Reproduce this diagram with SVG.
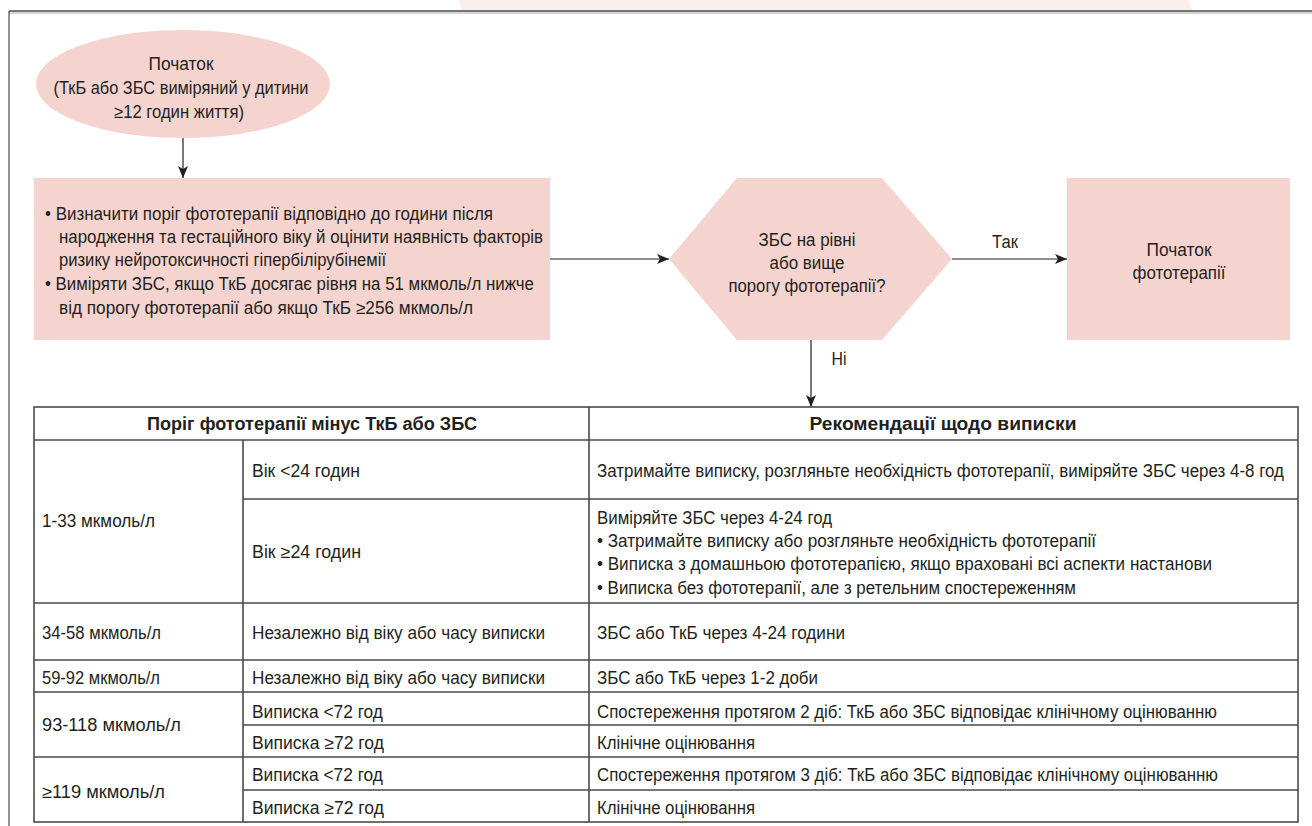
<svg xmlns="http://www.w3.org/2000/svg" width="1312" height="826" viewBox="0 0 1312 826">
<style>
.t{font-family:"Liberation Sans",Arial,sans-serif;font-size:17.5px;fill:#231f20}
.b{font-weight:bold}
.m{text-anchor:middle}
.node{fill:#f5d4cf;stroke:none}
.conn{stroke:#231f20;stroke-width:1.2;fill:none}
.grid{stroke:#4a4a4a;stroke-width:1.6;fill:none}
</style>
<defs>
<marker id="ah" viewBox="0 0 12 10" refX="12" refY="5" markerWidth="12" markerHeight="10" markerUnits="userSpaceOnUse" orient="auto">
<path d="M0,0 L12,5 L0,10 L3,5 z" fill="#231f20"/>
</marker>
</defs>
<rect width="1312" height="826" fill="#fff"/>
<polygon points="459,0 1188,0 1192,10 461,10" fill="#fbede7"/>
<g id="frame">
<line x1="9" y1="11" x2="1312" y2="11" stroke="#4a4a4a" stroke-width="1.6"/>
<line x1="9" y1="13" x2="1312" y2="13" stroke="#aaa" stroke-width="1"/>
<line x1="9" y1="11" x2="9" y2="826" stroke="#4a4a4a" stroke-width="1.2"/>
</g>
<g id="start">
<ellipse class="node" cx="183" cy="84" rx="147" ry="54"/>
<text class="t m" x="181" y="70" textLength="65" lengthAdjust="spacingAndGlyphs">Початок</text>
<text class="t m" x="181" y="94" textLength="255" lengthAdjust="spacingAndGlyphs">(ТкБ або ЗБС виміряний у дитини</text>
<text class="t m" x="179" y="118" textLength="130" lengthAdjust="spacingAndGlyphs">≥12 годин життя)</text>
</g>
<g id="assess">
<rect class="node" x="34" y="178" width="516" height="162"/>
<text class="t" x="45" y="220" textLength="448" lengthAdjust="spacingAndGlyphs">• Визначити поріг фототерапії відповідно до години після</text>
<text class="t" x="59" y="243" textLength="484" lengthAdjust="spacingAndGlyphs">народження та гестаційного віку й оцінити наявність факторів</text>
<text class="t" x="59" y="266" textLength="327" lengthAdjust="spacingAndGlyphs">ризику нейротоксичності гіпербілірубінемії</text>
<text class="t" x="45" y="290" textLength="489" lengthAdjust="spacingAndGlyphs">• Виміряти ЗБС, якщо ТкБ досягає рівня на 51 мкмоль/л нижче</text>
<text class="t" x="59" y="314" textLength="414" lengthAdjust="spacingAndGlyphs">від порогу фототерапії або якщо ТкБ ≥256 мкмоль/л</text>
</g>
<g id="decision">
<polygon class="node" points="669,259 737,178 882,178 952,259 882,340 737,340"/>
<text class="t m" x="807" y="246" textLength="97" lengthAdjust="spacingAndGlyphs">ЗБС на рівні</text>
<text class="t m" x="807" y="269" textLength="75" lengthAdjust="spacingAndGlyphs">або вище</text>
<text class="t m" x="807" y="292" textLength="157" lengthAdjust="spacingAndGlyphs">порогу фототерапії?</text>
</g>
<g id="phototherapy">
<rect class="node" x="1067" y="178" width="223" height="162"/>
<text class="t m" x="1179" y="256" textLength="65" lengthAdjust="spacingAndGlyphs">Початок</text>
<text class="t m" x="1179" y="279" textLength="93" lengthAdjust="spacingAndGlyphs">фототерапії</text>
</g>
<g id="connectors">
<line class="conn" x1="183" y1="138" x2="183" y2="178" marker-end="url(#ah)"/>
<line class="conn" x1="550" y1="259" x2="669" y2="259" marker-end="url(#ah)"/>
<line class="conn" x1="952" y1="259" x2="1067" y2="259" marker-end="url(#ah)"/>
<text class="t m" x="1005" y="248" textLength="26" lengthAdjust="spacingAndGlyphs">Так</text>
<line class="conn" x1="811" y1="340" x2="811" y2="407" marker-end="url(#ah)"/>
<text class="t m" x="839" y="365" textLength="15" lengthAdjust="spacingAndGlyphs">Ні</text>
</g>
<g id="table">
<rect class="grid" x="34" y="407" width="1264" height="415"/>
<line class="grid" x1="34" y1="440" x2="1298" y2="440"/>
<line class="grid" x1="589" y1="407" x2="589" y2="822"/>
<line class="grid" x1="243" y1="440" x2="243" y2="822"/>
<line class="grid" x1="243" y1="499" x2="1298" y2="499"/>
<line class="grid" x1="34" y1="603" x2="1298" y2="603"/>
<line class="grid" x1="34" y1="660" x2="1298" y2="660"/>
<line class="grid" x1="34" y1="692" x2="1298" y2="692"/>
<line class="grid" x1="243" y1="725" x2="1298" y2="725"/>
<line class="grid" x1="34" y1="757" x2="1298" y2="757"/>
<line class="grid" x1="243" y1="790" x2="1298" y2="790"/>
<text class="t b m" x="312" y="430" textLength="330" lengthAdjust="spacingAndGlyphs">Поріг фототерапії мінус ТкБ або ЗБС</text>
<text class="t b m" x="943" y="430" textLength="267" lengthAdjust="spacingAndGlyphs">Рекомендації щодо виписки</text>
<text class="t" x="42" y="527" textLength="113" lengthAdjust="spacingAndGlyphs">1-33 мкмоль/л</text>
<text class="t" x="252" y="477" textLength="108" lengthAdjust="spacingAndGlyphs">Вік &lt;24 годин</text>
<text class="t" x="252" y="558" textLength="109" lengthAdjust="spacingAndGlyphs">Вік ≥24 годин</text>
<text class="t" x="597" y="477" textLength="687" lengthAdjust="spacingAndGlyphs">Затримайте виписку, розгляньте необхідність фототерапії, виміряйте ЗБС через 4-8 год</text>
<text class="t" x="597" y="524" textLength="235" lengthAdjust="spacingAndGlyphs">Виміряйте ЗБС через 4-24 год</text>
<text class="t" x="597" y="547" textLength="499" lengthAdjust="spacingAndGlyphs">• Затримайте виписку або розгляньте необхідність фототерапії</text>
<text class="t" x="597" y="570" textLength="615" lengthAdjust="spacingAndGlyphs">• Виписка з домашньою фототерапією, якщо враховані всі аспекти настанови</text>
<text class="t" x="597" y="594" textLength="479" lengthAdjust="spacingAndGlyphs">• Виписка без фототерапії, але з ретельним спостереженням</text>
<text class="t" x="42" y="639" textLength="119" lengthAdjust="spacingAndGlyphs">34-58 мкмоль/л</text>
<text class="t" x="252" y="639" textLength="293" lengthAdjust="spacingAndGlyphs">Незалежно від віку або часу виписки</text>
<text class="t" x="597" y="639" textLength="248" lengthAdjust="spacingAndGlyphs">ЗБС або ТкБ через 4-24 години</text>
<text class="t" x="42" y="684" textLength="118" lengthAdjust="spacingAndGlyphs">59-92 мкмоль/л</text>
<text class="t" x="252" y="684" textLength="293" lengthAdjust="spacingAndGlyphs">Незалежно від віку або часу виписки</text>
<text class="t" x="597" y="684" textLength="221" lengthAdjust="spacingAndGlyphs">ЗБС або ТкБ через 1-2 доби</text>
<text class="t" x="42" y="731" textLength="139" lengthAdjust="spacingAndGlyphs">93-118 мкмоль/л</text>
<text class="t" x="252" y="718" textLength="131" lengthAdjust="spacingAndGlyphs">Виписка &lt;72 год</text>
<text class="t" x="597" y="718" textLength="620" lengthAdjust="spacingAndGlyphs">Спостереження протягом 2 діб: ТкБ або ЗБС відповідає клінічному оцінюванню</text>
<text class="t" x="252" y="749" textLength="132" lengthAdjust="spacingAndGlyphs">Виписка ≥72 год</text>
<text class="t" x="597" y="749" textLength="158" lengthAdjust="spacingAndGlyphs">Клінічне оцінювання</text>
<text class="t" x="42" y="798" textLength="123" lengthAdjust="spacingAndGlyphs">≥119 мкмоль/л</text>
<text class="t" x="252" y="781" textLength="131" lengthAdjust="spacingAndGlyphs">Виписка &lt;72 год</text>
<text class="t" x="597" y="781" textLength="621" lengthAdjust="spacingAndGlyphs">Спостереження протягом 3 діб: ТкБ або ЗБС відповідає клінічному оцінюванню</text>
<text class="t" x="252" y="814" textLength="132" lengthAdjust="spacingAndGlyphs">Виписка ≥72 год</text>
<text class="t" x="597" y="814" textLength="158" lengthAdjust="spacingAndGlyphs">Клінічне оцінювання</text>
</g>
</svg>
